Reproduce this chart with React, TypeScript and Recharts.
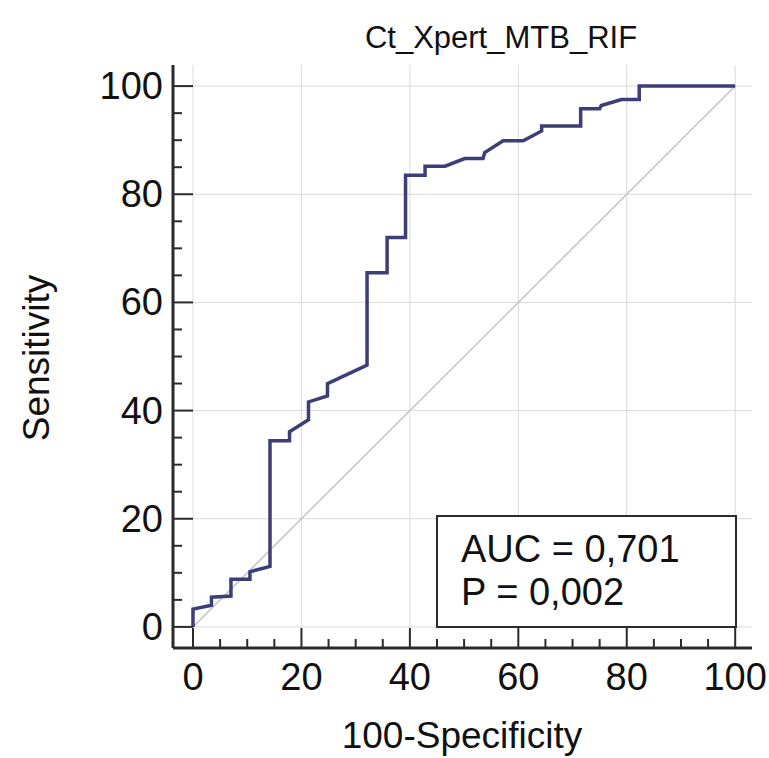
import { LineChart, Line, XAxis, YAxis, CartesianGrid } from "recharts";

// ROC curve: 100-Specificity (x) and Sensitivity (y)
const specComplement = [
  0, 0, 3.4, 3.4, 7, 7, 10.5, 10.5, 14.2, 14.2, 17.8, 17.8, 21.3, 21.3, 24.8,
  24.8, 32.1, 32.1, 35.8, 35.8, 39.2, 39.2, 42.8, 42.8, 46.5, 50.1, 53.5, 53.8,
  57.2, 60.9, 64.3, 64.3, 71.5, 71.5, 75, 75.3, 79, 82.3, 82.3, 100,
];
const sensitivity = [
  0, 3.3, 4.0, 5.5, 5.7, 8.8, 8.8, 10.2, 11.2, 34.4, 34.4, 36.1, 38.3, 41.6,
  42.7, 45.0, 48.4, 65.5, 65.5, 72.0, 72.0, 83.5, 83.5, 85.2, 85.2, 86.6, 86.6,
  87.7, 89.9, 89.9, 91.7, 92.6, 92.6, 95.8, 95.8, 96.4, 97.5, 97.5, 100, 100,
];

// reference diagonal
const diagX = [0, 100];
const diagY = [0, 100];

const axisTicks = [
  0, 5, 10, 15, 20, 25, 30, 35, 40, 45, 50, 55, 60, 65, 70, 75, 80, 85, 90, 95,
  100,
];
const gridValues = [0, 20, 40, 60, 80, 100];

const title = "Ct_Xpert_MTB_RIF";
const xTitle = "100-Specificity";
const yTitle = "Sensitivity";
const statLines = ["AUC = 0,701", "P = 0,002"];

const rocData = specComplement.map((x, i) => ({ x, y: sensitivity[i] }));
const diagData = diagX.map((x, i) => ({ x, y: diagY[i] }));

const FONT = "'Liberation Sans', Arial, sans-serif";
const AXIS = "#2b2b2b";

const XTick = (props: any) => {
  const { x, y, payload } = props;
  const major = payload.value % 20 === 0;
  return (
    <g>
      <line
        x1={x}
        y1={y}
        x2={x}
        y2={y - (major ? 20 : 9)}
        stroke={AXIS}
        strokeWidth={2}
      />
      {major && (
        <text
          x={x}
          y={y + 42}
          textAnchor="middle"
          fontFamily={FONT}
          fontSize={38}
          fill="#111"
        >
          {payload.value}
        </text>
      )}
    </g>
  );
};

const YTick = (props: any) => {
  const { x, y, payload } = props;
  const major = payload.value % 20 === 0;
  return (
    <g>
      <line
        x1={x}
        y1={y}
        x2={x + (major ? 20 : 9)}
        y2={y}
        stroke={AXIS}
        strokeWidth={2}
      />
      {major && (
        <text
          x={x - 10}
          y={y + 13}
          textAnchor="end"
          fontFamily={FONT}
          fontSize={38}
          fill="#111"
        >
          {payload.value}
        </text>
      )}
    </g>
  );
};

export default function App() {
  return (
    <div
      style={{
        position: "absolute",
        left: 0,
        top: 0,
        width: 769,
        height: 758,
        background: "#fff",
      }}
    >
      <LineChart
        width={769}
        height={758}
        margin={{ top: 65, right: 17, bottom: 50, left: 113 }}
      >
        <CartesianGrid
          stroke="#dadada"
          strokeWidth={1}
          horizontalValues={gridValues}
          verticalValues={gridValues}
        />
        <XAxis
          type="number"
          dataKey="x"
          domain={[-3.69, 103.1]}
          ticks={axisTicks}
          interval={0}
          height={60}
          tickLine={false}
          tickSize={0}
          tickMargin={0}
          axisLine={{ stroke: AXIS, strokeWidth: 3 }}
          tick={<XTick />}
        />
        <YAxis
          type="number"
          dataKey="y"
          domain={[-3.9, 103.9]}
          ticks={axisTicks}
          interval={0}
          width={60}
          tickLine={false}
          tickSize={0}
          tickMargin={0}
          axisLine={{ stroke: AXIS, strokeWidth: 3 }}
          tick={<YTick />}
        />
        <Line
          data={diagData}
          dataKey="y"
          type="linear"
          stroke="#c4c4c4"
          strokeWidth={1.5}
          dot={false}
          activeDot={false}
          isAnimationActive={false}
        />
        <Line
          data={rocData}
          dataKey="y"
          type="linear"
          stroke="#3d3d78"
          strokeWidth={3.5}
          dot={false}
          activeDot={false}
          isAnimationActive={false}
        />
      </LineChart>
      <svg
        width={769}
        height={758}
        style={{ position: "absolute", left: 0, top: 0, pointerEvents: "none" }}
      >
        <text
          x={501}
          y={48}
          textAnchor="middle"
          fontFamily={FONT}
          fontSize={31}
          fill="#111"
        >
          {title}
        </text>
        <text
          x={462}
          y={748}
          textAnchor="middle"
          fontFamily={FONT}
          fontSize={37}
          fill="#111"
        >
          {xTitle}
        </text>
        <text
          transform="translate(49, 358) rotate(-90)"
          textAnchor="middle"
          fontFamily={FONT}
          fontSize={37}
          fill="#111"
        >
          {yTitle}
        </text>
        <rect
          x={437}
          y={516}
          width={299}
          height={111}
          fill="#fff"
          stroke={AXIS}
          strokeWidth={2}
        />
        {statLines.map((s, i) => (
          <text
            key={s}
            x={461}
            y={562 + i * 43}
            fontFamily={FONT}
            fontSize={38}
            fill="#111"
          >
            {s}
          </text>
        ))}
      </svg>
    </div>
  );
}
